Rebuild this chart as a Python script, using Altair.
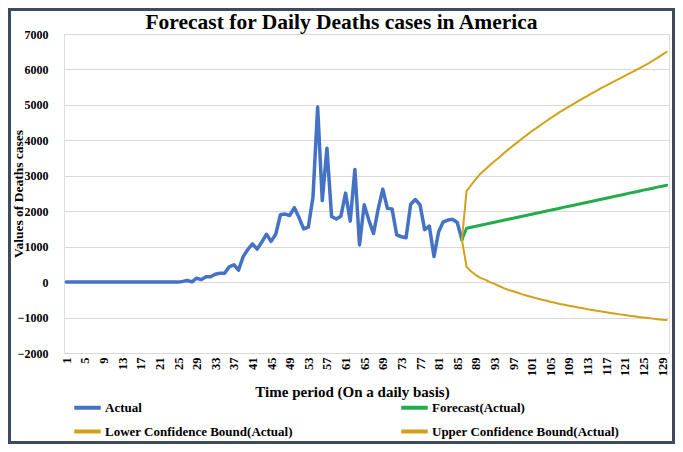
import altair as alt
import pandas as pd

# ---------------- data ----------------
series_names = ["Actual", "Forecast(Actual)",
                "Lower Confidence Bound(Actual)", "Upper Confidence Bound(Actual)"]

actual_days = list(range(1, 87))
actual = [0, 0, 0, 0, 0, 0, 0, 0, 0, 0, 0, 0, 0, 0, 0, 0, 0, 0, 0, 0, 0, 0, 0, 0, 0,
          20, 45, 5, 110, 70, 150, 150, 220, 250, 250, 430, 490, 340, 720, 920,
          1080, 930, 1130, 1350, 1150, 1350, 1900, 1920, 1880, 2100, 1820, 1500,
          1550, 2400, 4940, 2300, 3780, 1850, 1780, 1860, 2510, 1720, 3180, 1050,
          2180, 1750, 1370, 2050, 2620, 2080, 2060, 1330, 1280, 1250, 2200, 2330,
          2180, 1480, 1580, 720, 1420, 1700, 1750, 1770, 1680, 1200]

forecast_days = list(range(86, 131))
forecast = [1200, 1520, 1550, 1575, 1605, 1630, 1660, 1690, 1715, 1745, 1775,
            1800, 1830, 1860, 1885, 1915, 1945, 1970, 2000, 2030, 2055, 2085,
            2115, 2140, 2170, 2195, 2225, 2255, 2280, 2310, 2340, 2365, 2395,
            2425, 2450, 2480, 2510, 2535, 2565, 2595, 2620, 2650, 2680, 2705, 2735]
upper = [1200, 2565, 2740, 2905, 3060, 3180, 3300, 3410, 3515, 3635, 3745,
         3850, 3950, 4060, 4155, 4255, 4345, 4440, 4530, 4620, 4705, 4795,
         4875, 4950, 5030, 5105, 5185, 5255, 5330, 5400, 5480, 5545, 5615,
         5685, 5750, 5820, 5890, 5955, 6025, 6095, 6165, 6245, 6325, 6410, 6500]
lower = [1200, 430, 300, 200, 120, 70, 0, -50, -110, -170, -220,
         -260, -300, -345, -385, -420, -455, -490, -520, -555, -585, -615,
         -640, -665, -690, -715, -740, -765, -785, -810, -830, -850, -870,
         -890, -910, -930, -950, -965, -985, -1000, -1015, -1030, -1045, -1060, -1070]

x_tick_labels = [1, 5, 9, 13, 17, 21, 25, 29, 33, 37, 41, 45, 49, 53, 57, 61, 65,
                 69, 73, 77, 81, 85, 89, 93, 97, 101, 105, 109, 113, 117, 121, 125, 129]
y_tick_labels = [-2000, -1000, 0, 1000, 2000, 3000, 4000, 5000, 6000, 7000]

# ---------------- build table ----------------
rows = []
for name, days, vals in [(series_names[0], actual_days, actual),
                         (series_names[1], forecast_days, forecast),
                         (series_names[2], forecast_days, lower),
                         (series_names[3], forecast_days, upper)]:
    for d, v in zip(days, vals):
        rows.append({"day": d, "value": v, "series": name})
df = pd.DataFrame(rows)

# legend is filled column by column: list in the order that puts
# Actual / Forecast on the first row and the two bounds on the second
legend_order = [series_names[0], series_names[2], series_names[1], series_names[3]]
color_of = {series_names[0]: "#4472C4", series_names[1]: "#22AD4C",
            series_names[2]: "#D4A017", series_names[3]: "#D4A017"}
width_of = {series_names[0]: 3.5, series_names[1]: 3,
            series_names[2]: 2, series_names[3]: 2}

W, H = 605, 319
SERIF = "Liberation Serif"

base = alt.Chart(df).encode(
    x=alt.X("day:Q",
            scale=alt.Scale(domain=[0.5, 130.5], nice=False, zero=False),
            axis=alt.Axis(values=x_tick_labels, labelAngle=-90, grid=False,
                          domain=False, ticks=False, format="d",
                          labelFont=SERIF, labelFontWeight="bold", labelFontSize=12.5,
                          labelColor="black", labelPadding=4,
                          title="Time period (On a daily basis)",
                          titleFont=SERIF, titleFontWeight="bold", titleFontSize=15,
                          titleColor="black", titleX=288, titleY=31)),
    y=alt.Y("value:Q",
            scale=alt.Scale(domain=[-2000, 7000], nice=False),
            axis=alt.Axis(values=y_tick_labels, grid=True, gridColor="#D9D9D9",
                          gridWidth=1, domain=False, ticks=False, format="d",
                          labelFont=SERIF, labelFontWeight="bold", labelFontSize=12,
                          labelColor="black", labelPadding=16,
                          title="Values of Deaths cases",
                          titleFont=SERIF, titleFontWeight="bold", titleFontSize=13.5,
                          titleColor="black", titleX=-39, titleY=H / 2)),
    color=alt.Color("series:N",
                    scale=alt.Scale(domain=legend_order,
                                    range=[color_of[s] for s in legend_order]),
                    legend=alt.Legend(title=None, orient="none", legendX=8, legendY=358,
                                      columns=2, columnPadding=100, rowPadding=0,
                                      symbolType="stroke", symbolSize=700,
                                      symbolStrokeWidth=4, labelFont=SERIF,
                                      labelFontWeight="bold", labelFontSize=13,
                                      labelColor="black", labelLimit=320,
                                      labelOffset=2)),
)

line_layers = [
    base.transform_filter(alt.datum.series == s).mark_line(
        strokeJoin="round", strokeCap="round", strokeWidth=width_of[s])
    for s in series_names
]

frame = alt.Chart(alt.Data(values=[{"k": 1}])).mark_rect(
    fillOpacity=0, stroke="#3C4B5D", strokeWidth=3
).encode(
    x=alt.value(-54.5), x2=alt.value(W + 4.5),
    y=alt.value(-24.5), y2=alt.value(H + 89.5),
)

chart = alt.layer(*line_layers, frame).properties(
    width=W, height=H,
    title=alt.TitleParams("Forecast for Daily Deaths cases in America",
                          font=SERIF, fontWeight="bold", fontSize=21.5,
                          color="black", anchor="middle", frame="bounds",
                          offset=7, dy=32),
    padding={"left": 56, "top": 26, "right": 6, "bottom": 91},
    autosize=alt.AutoSizeParams(type="none"),
).configure_view(stroke="transparent").configure(background="white")

chart.save("out.html", embed_options={"renderer": "svg", "actions": False})
